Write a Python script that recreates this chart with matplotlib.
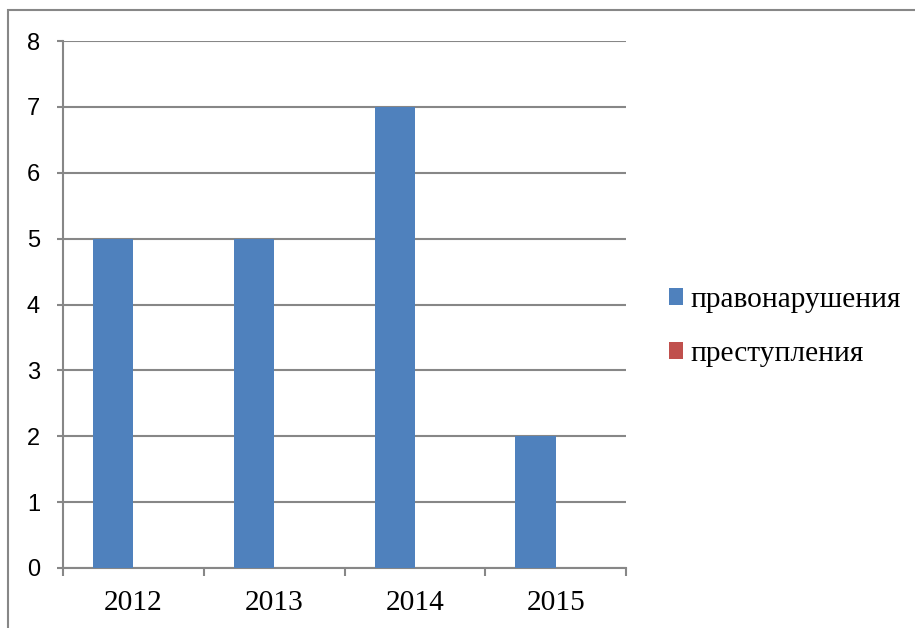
import matplotlib
matplotlib.use("Agg")
import matplotlib.pyplot as plt
from matplotlib.patches import Rectangle
import numpy as np

years = ["2012", "2013", "2014", "2015"]
offenses = [5, 5, 7, 2]      # правонарушения
crimes = [0, 0, 0, 0]        # преступления
y_ticks = [0, 1, 2, 3, 4, 5, 6, 7, 8]

blue = "#4F81BD"
red = "#C0504D"
grid_gray = "#878787"

fig = plt.figure(figsize=(9.15, 6.28), dpi=100)

# chart border (continues past the picture edge on right and bottom)
fig.patches.append(Rectangle((8 / 915, -0.05), 1.2, 1 - 10 / 628 + 0.05,
                             transform=fig.transFigure, fill=False,
                             edgecolor=grid_gray, linewidth=1.5))

ax = fig.add_axes([63 / 915, 1 - 568 / 628, (626 - 63) / 915, (568 - 41) / 628])

x = np.arange(len(years))
w = 1 / 3.5
ax.bar(x - w / 2, offenses, width=w, color=blue, label="правонарушения", zorder=3)
ax.bar(x + w / 2, crimes, width=w, color=red, label="преступления", zorder=3)

ax.set_xlim(-0.5, len(years) - 0.5)
ax.set_ylim(0, 8)
ax.set_yticks(y_ticks)
ax.set_yticklabels([str(t) for t in y_ticks], fontfamily="Liberation Sans", fontsize=17)
ax.yaxis.grid(True, color=grid_gray, linewidth=1.5, zorder=0)

# category boundaries as major ticks, labels at minor ticks
ax.set_xticks(np.arange(len(years) + 1) - 0.5)
ax.set_xticklabels([])
ax.set_xticks(x, minor=True)
ax.set_xticklabels(years, minor=True, fontfamily="Liberation Serif", fontsize=21.2)
ax.tick_params(axis="x", which="major", length=6, width=1.5, color=grid_gray)
ax.tick_params(axis="x", which="minor", length=0, pad=16)
ax.tick_params(axis="y", length=4.5, width=1.5, color=grid_gray, pad=12)

for s in ["top", "right"]:
    ax.spines[s].set_visible(False)
for s in ["left", "bottom"]:
    ax.spines[s].set_color(grid_gray)
    ax.spines[s].set_linewidth(1.5)

leg = fig.legend(loc="center left", bbox_to_anchor=(642 / 915, 1 - 327 / 628),
                 frameon=False, prop={"family": "Liberation Serif", "size": 21.2},
                 handlelength=0.5, handleheight=0.5, handletextpad=0.24,
                 labelspacing=0.93)

fig.savefig("out.png", dpi=100)
